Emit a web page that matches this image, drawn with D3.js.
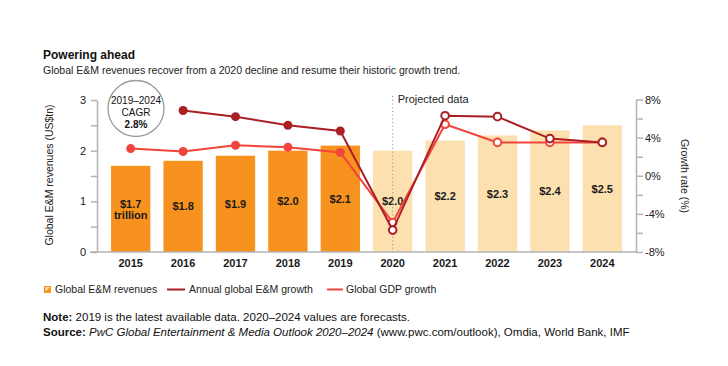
<!DOCTYPE html>
<html>
<head>
<meta charset="utf-8">
<script src="https://cdn.jsdelivr.net/npm/d3@7"></script>
<style>
  body { margin: 0; background: #fff; }
  svg { font-family: "Liberation Sans", Arial, sans-serif; }
</style>
</head>
<body>
<svg id="chart" width="728" height="366"></svg>
<script>
// dados
const years = ["2015", "2016", "2017", "2018", "2019", "2020", "2021", "2022", "2023", "2024"];
const revenues = [1.7, 1.8, 1.9, 2.0, 2.1, 2.0, 2.2, 2.3, 2.4, 2.5];
const revenueLabels = ["$1.7", "$1.8", "$1.9", "$2.0", "$2.1", "$2.0", "$2.2", "$2.3", "$2.4", "$2.5"];
const emGrowth = [null, 6.85, 6.2, 5.3, 4.7, -5.7, 6.3, 6.2, 3.9, 3.5];
const gdpGrowth = [2.85, 2.55, 3.2, 3.0, 2.45, -4.9, 5.4, 3.5, 3.5, 3.5];
const firstProjected = "2020";
const leftTicks = [0, 0.5, 1, 1.5, 2, 2.5, 3];
const rightTicks = [-8, -6, -4, -2, 0, 2, 4, 6, 8];

const svg = d3.select("#chart");
const darkOrange = "#f7921e", lightOrange = "#fde0b0";
const emRed = "#a91f24", gdpRed = "#f0443c";
const isProj = y => +y >= +firstProjected;

const x = d3.scaleBand().domain(years).range([104.5, 628.5]).paddingInner(0.25).paddingOuter(0.125);
const yL = d3.scaleLinear().domain([0, 3]).range([252, 100]);
const yR = d3.scaleLinear().domain([-8, 8]).range([252, 99.5]);

// titulo
svg.append("text").attr("x", 43).attr("y", 59).attr("font-size", 12).attr("font-weight", "bold")
  .attr("fill", "#111").text("Powering ahead");
svg.append("text").attr("x", 43).attr("y", 74).attr("font-size", 10.5).attr("fill", "#222")
  .text("Global E&M revenues recover from a 2020 decline and resume their historic growth trend.");

// barras
svg.selectAll("rect.bar").data(years).enter().append("rect")
  .attr("x", d => x(d)).attr("width", x.bandwidth())
  .attr("y", (d, i) => yL(revenues[i]))
  .attr("height", (d, i) => yL(0) - yL(revenues[i]))
  .attr("fill", d => isProj(d) ? lightOrange : darkOrange);

svg.selectAll("text.barlbl").data(years).enter().append("text")
  .attr("text-anchor", "middle").attr("font-size", 11).attr("font-weight", "bold").attr("fill", "#1a1a1a")
  .attr("x", d => x(d) + x.bandwidth() / 2)
  .attr("y", (d, i) => (yL(revenues[i]) + yL(0)) / 2 + (i === 0 ? -1 : 4))
  .each(function(d, i) {
    const t = d3.select(this);
    t.append("tspan").text(revenueLabels[i]);
    if (i === 0) t.append("tspan").attr("x", x(d) + x.bandwidth() / 2).attr("dy", 11).text("trillion");
  });

// eixos
const axL = svg.append("g").attr("transform", "translate(97,0)")
  .call(d3.axisLeft(yL).tickValues(leftTicks).tickSize(6).tickPadding(5).tickSizeOuter(0)
    .tickFormat(d => Number.isInteger(d) ? d : ""));
const axR = svg.append("g").attr("transform", "translate(636,0)")
  .call(d3.axisRight(yR).tickValues(rightTicks).tickSize(7).tickPadding(2).tickSizeOuter(0)
    .tickFormat(d => d % 4 === 0 ? d + "%" : ""));
[axL, axR].forEach(a => {
  a.selectAll("path, line").attr("stroke", "#b3b3b3").attr("stroke-width", 1.5);
  a.selectAll("text").attr("font-size", 11).attr("fill", "#222")
    .attr("font-family", "'Liberation Sans', Arial, sans-serif");
});
svg.append("line").attr("x1", 90).attr("x2", 636).attr("y1", yL(0)).attr("y2", yL(0))
  .attr("stroke", "#b3b3b3").attr("stroke-width", 1.5);

svg.selectAll("text.year").data(years).enter().append("text")
  .attr("x", d => x(d) + x.bandwidth() / 2).attr("y", 267)
  .attr("text-anchor", "middle").attr("font-size", 11).attr("font-weight", "bold").attr("fill", "#1a1a1a")
  .text(d => d);

svg.append("text").attr("transform", "translate(53,175) rotate(-90)").attr("text-anchor", "middle")
  .attr("font-size", 10.5).attr("fill", "#222").text("Global E&M revenues (US$tn)");
svg.append("text").attr("transform", "translate(681,176) rotate(90)").attr("text-anchor", "middle")
  .attr("font-size", 10.5).attr("fill", "#222").text("Growth rate (%)");

// linha de projecao
const px = x(firstProjected) + x.bandwidth() / 2;
svg.append("line").attr("x1", px).attr("x2", px).attr("y1", 96).attr("y2", 252)
  .attr("stroke", "#999").attr("stroke-width", 1).attr("stroke-dasharray", "1.2,2.5");
svg.append("text").attr("x", px + 5).attr("y", 103).attr("font-size", 11).attr("fill", "#222")
  .text("Projected data");

// linhas de crescimento
function drawSeries(values, color) {
  const pts = years.map((d, i) => ({ year: d, v: values[i] })).filter(p => p.v !== null);
  svg.append("path").datum(pts)
    .attr("fill", "none").attr("stroke", color).attr("stroke-width", 2)
    .attr("d", d3.line().x(p => x(p.year) + x.bandwidth() / 2).y(p => yR(p.v)));
  svg.selectAll(null).data(pts).enter().append("circle")
    .attr("cx", p => x(p.year) + x.bandwidth() / 2).attr("cy", p => yR(p.v))
    .attr("r", p => isProj(p.year) ? 3.8 : 4.5)
    .attr("fill", p => isProj(p.year) ? "#fff" : color)
    .attr("stroke", color).attr("stroke-width", p => isProj(p.year) ? 2 : 0);
}
drawSeries(gdpGrowth, gdpRed);
drawSeries(emGrowth, emRed);

// circulo CAGR
svg.append("circle").attr("cx", 136).attr("cy", 108.5).attr("r", 28)
  .attr("fill", "#fff").attr("stroke", "#9a9a9a").attr("stroke-width", 1.3);
const cg = svg.append("text").attr("text-anchor", "middle").attr("font-size", 10).attr("fill", "#111");
cg.append("tspan").attr("x", 136).attr("y", 104).text("2019–2024");
cg.append("tspan").attr("x", 136).attr("y", 115.5).text("CAGR");
cg.append("tspan").attr("x", 136).attr("y", 127.5).attr("font-weight", "bold").text("2.8%");

// legenda
const lg = svg.append("g");
lg.append("rect").attr("x", 44).attr("y", 286).attr("width", 7).attr("height", 7).attr("fill", darkOrange);
lg.append("path").attr("d", "M45.5,287 L50,287 L45.5,291.5 Z").attr("fill", lightOrange);
lg.append("text").attr("x", 55).attr("y", 293).attr("font-size", 10.5).attr("fill", "#222").text("Global E&M revenues");
lg.append("line").attr("x1", 167).attr("x2", 185).attr("y1", 289.5).attr("y2", 289.5)
  .attr("stroke", emRed).attr("stroke-width", 2);
lg.append("text").attr("x", 189).attr("y", 293).attr("font-size", 10.5).attr("fill", "#222").text("Annual global E&M growth");
lg.append("line").attr("x1", 327).attr("x2", 343).attr("y1", 289.5).attr("y2", 289.5)
  .attr("stroke", gdpRed).attr("stroke-width", 2);
lg.append("text").attr("x", 346).attr("y", 293).attr("font-size", 10.5).attr("fill", "#222").text("Global GDP growth");

// notas
const note = svg.append("text").attr("x", 43).attr("y", 321).attr("font-size", 11.5).attr("fill", "#111");
note.append("tspan").attr("font-weight", "bold").text("Note:");
note.append("tspan").text(" 2019 is the latest available data. 2020–2024 values are forecasts.");
const src = svg.append("text").attr("x", 43).attr("y", 336).attr("font-size", 11.5).attr("fill", "#111");
src.append("tspan").attr("font-weight", "bold").text("Source:");
src.append("tspan").attr("font-style", "italic").text(" PwC Global Entertainment & Media Outlook 2020–2024");
src.append("tspan").text(" (www.pwc.com/outlook), Omdia, World Bank, IMF");
</script>
</body>
</html>
